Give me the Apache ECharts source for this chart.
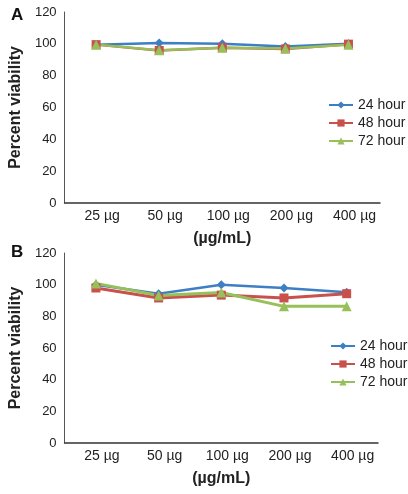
<!DOCTYPE html>
<html>
<head>
<meta charset="utf-8">
<script src="https://cdn.jsdelivr.net/npm/echarts@6/dist/echarts.min.js"></script>
<style>
  html, body { margin: 0; padding: 0; background: #fff; }
  #main { width: 408px; height: 494px; }
</style>
</head>
<body>
<div id="main"></div>
<script>
// doses on the x axis
var doses = ['25 µg', '50 µg', '100 µg', '200 µg', '400 µg'];
var seriesNames = ['24 hour', '48 hour', '72 hour'];

// panel A values (percent viability)
var a24 = [99.5, 100.6, 100, 98.3, 100];
var a48 = [99.5, 95.8, 97.6, 96.8, 99.8];
var a72 = [99.5, 96, 97.5, 97, 99.5];

// panel B values
var b24 = [100, 94.3, 100, 97.9, 95.2];
var b48 = [97.9, 91.6, 93.4, 91.6, 94.3];
var b72 = [100.8, 93.2, 95.1, 86.3, 86.3];

var yTicks = [0, 120, 20]; // min, max, step

var colors = ['#3d7fc2', '#c8504d', '#98c05a'];
var symbols = ['diamond', 'rect', 'triangle'];
var symbolSizes = [9, 9, 10];
var font = 'Arial, "Liberation Sans", sans-serif';

var myChart = echarts.init(document.getElementById('main'));

function xAxis(gi) {
  return {
    type: 'category',
    gridIndex: gi,
    data: doses,
    name: '(µg/mL)',
    nameLocation: 'middle',
    nameGap: 28,
    nameTextStyle: { fontFamily: font, fontWeight: 'bold', fontSize: 16, color: '#222' },
    axisLine: { lineStyle: { color: '#333', width: 1.5 } },
    axisTick: { show: false },
    axisLabel: { fontFamily: font, fontSize: 14, color: '#222', margin: 6, padding: [0, 0, 0, 12] }
  };
}

function yAxis(gi) {
  return {
    type: 'value',
    gridIndex: gi,
    min: yTicks[0],
    max: yTicks[1],
    interval: yTicks[2],
    name: 'Percent viability',
    nameLocation: 'middle',
    nameGap: 40,
    nameTextStyle: { fontFamily: font, fontWeight: 'bold', fontSize: 16, color: '#222' },
    axisLine: { show: true, lineStyle: { color: '#555', width: 1 } },
    axisTick: { show: false },
    splitLine: { show: false },
    axisLabel: { fontFamily: font, fontSize: 13, color: '#222', margin: 8 }
  };
}

function lines(gi, arrs, widths) {
  return arrs.map(function (d, i) {
    return {
      name: seriesNames[i],
      type: 'line',
      xAxisIndex: gi,
      yAxisIndex: gi,
      data: d,
      symbol: symbols[i],
      symbolSize: symbolSizes[i],
      color: colors[i],
      lineStyle: { width: widths[i], color: colors[i] },
      itemStyle: { color: colors[i] }
    };
  });
}

function legend(left, top) {
  return {
    orient: 'vertical',
    left: left,
    top: top,
    itemWidth: 24,
    itemHeight: 9,
    itemGap: 4,
    data: seriesNames,
    textStyle: { fontFamily: font, fontSize: 14, color: '#222' }
  };
}

myChart.setOption({
  animation: false,
  title: [
    { text: 'A', left: 6, top: 2, textStyle: { fontFamily: font, fontSize: 17, fontWeight: 'bold', color: '#111' } },
    { text: 'B', left: 6, top: 239, textStyle: { fontFamily: font, fontSize: 17, fontWeight: 'bold', color: '#111' } }
  ],
  legend: [legend(323, 93), legend(325, 334)],
  grid: [
    { left: 61, top: 12, width: 319, height: 191 },
    { left: 61, top: 253, width: 317, height: 190 }
  ],
  xAxis: [xAxis(0), xAxis(1)],
  yAxis: [yAxis(0), yAxis(1)],
  series: lines(0, [a24, a48, a72], [2.5, 2.5, 2.5]).concat(lines(1, [b24, b48, b72], [2.5, 3, 3]))
});
</script>
</body>
</html>
